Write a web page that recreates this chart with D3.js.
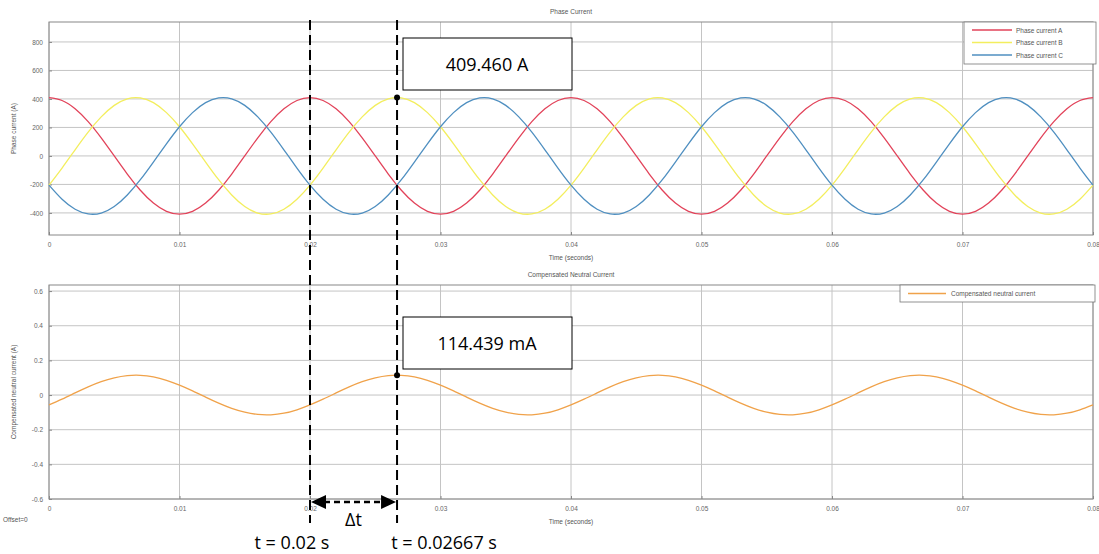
<!DOCTYPE html>
<html>
<head>
<meta charset="utf-8">
<script src="https://cdn.jsdelivr.net/npm/d3@7"></script>
<style>
  body { margin: 0; background: white; }
  svg { display: block; font-family: "Liberation Sans", Arial, sans-serif; }
</style>
</head>
<body>
<script>
// samples every 1 ms, 0 .. 0.08 s
const dt = 0.001
const phaseA = [409,389,331,241,127,0,-127,-241,-331,-389,-409,-389,-331,-241,-127,0,127,241,331,389,
    409,389,331,241,127,0,-127,-241,-331,-389,-409,-389,-331,-241,-127,0,127,241,331,389,
    409,389,331,241,127,0,-127,-241,-331,-389,-409,-389,-331,-241,-127,0,127,241,331,389,
    409,389,331,241,127,0,-127,-241,-331,-389,-409,-389,-331,-241,-127,0,127,241,331,389,409]
const phaseB = [-205,-85,43,167,274,355,401,407,374,304,205,85,-43,-167,-274,-355,-401,-407,-374,-304,
    -205,-85,43,167,274,355,401,407,374,304,205,85,-43,-167,-274,-355,-401,-407,-374,-304,
    -205,-85,43,167,274,355,401,407,374,304,205,85,-43,-167,-274,-355,-401,-407,-374,-304,
    -205,-85,43,167,274,355,401,407,374,304,205,85,-43,-167,-274,-355,-401,-407,-374,-304,-205]
const phaseC = [-205,-304,-374,-407,-401,-355,-274,-167,-43,85,205,304,374,407,401,355,274,167,43,-85,
    -205,-304,-374,-407,-401,-355,-274,-167,-43,85,205,304,374,407,401,355,274,167,43,-85,
    -205,-304,-374,-407,-401,-355,-274,-167,-43,85,205,304,374,407,401,355,274,167,43,-85,
    -205,-304,-374,-407,-401,-355,-274,-167,-43,85,205,304,374,407,401,355,274,167,43,-85,-205]
const neutral = [-0.057,-0.024,0.012,0.047,0.077,0.099,0.112,0.114,0.105,0.085,0.057,0.024,-0.012,-0.047,-0.077,-0.099,-0.112,-0.114,-0.105,-0.085,
    -0.057,-0.024,0.012,0.047,0.077,0.099,0.112,0.114,0.105,0.085,0.057,0.024,-0.012,-0.047,-0.077,-0.099,-0.112,-0.114,-0.105,-0.085,
    -0.057,-0.024,0.012,0.047,0.077,0.099,0.112,0.114,0.105,0.085,0.057,0.024,-0.012,-0.047,-0.077,-0.099,-0.112,-0.114,-0.105,-0.085,
    -0.057,-0.024,0.012,0.047,0.077,0.099,0.112,0.114,0.105,0.085,0.057,0.024,-0.012,-0.047,-0.077,-0.099,-0.112,-0.114,-0.105,-0.085,-0.057]

const xTicks = [0, 0.01, 0.02, 0.03, 0.04, 0.05, 0.06, 0.07, 0.08]
const topTicks = [-400, -200, 0, 200, 400, 600, 800]
const botTicks = [-0.6, -0.4, -0.2, 0, 0.2, 0.4, 0.6]
const phaseNames = ['Phase current A', 'Phase current B', 'Phase current C']
const phaseColors = ['#e2435a', '#f3ee5e', '#4f8fc0']
const cursorT = [0.02, 0.02667]
const cursorA = 409.460
const cursorN = 0.114439

const W = 1099, H = 554
const svg = d3.select('body').append('svg')
    .attr('width', W)
    .attr('height', H)

let x = d3.scaleLinear().domain([0, 0.08]).range([49, 1093])
let yTop = d3.scaleLinear().domain([-555, 940]).range([235, 22])
let yBot = d3.scaleLinear().domain([-0.6, 0.635]).range([499, 285])

function panel(y, ticks, fmt, title, ylabel, top, bottom){
    const g = svg.append('g')
    // grid
    g.selectAll('.gx').data(xTicks).enter().append('line')
        .attr('x1', d => x(d)).attr('x2', d => x(d))
        .attr('y1', top).attr('y2', bottom)
        .attr('stroke', '#c4c4c4').attr('stroke-width', 1)
    g.selectAll('.gy').data(ticks).enter().append('line')
        .attr('x1', 49).attr('x2', 1093)
        .attr('y1', d => y(d)).attr('y2', d => y(d))
        .attr('stroke', '#c4c4c4').attr('stroke-width', 1)
    g.append('rect')
        .attr('x', 49).attr('y', top)
        .attr('width', 1093 - 49).attr('height', bottom - top)
        .attr('fill', 'none').attr('stroke', '#888').attr('stroke-width', 1)

    let xAxis = d3.axisBottom(x).tickValues(xTicks).tickSize(3).tickFormat(d => d === 0 ? '0' : d3.format('.2f')(d))
    let ax = g.append('g').attr('transform', `translate(0,${bottom})`).call(xAxis)
    ax.select('.domain').remove()
    ax.selectAll('line').attr('stroke', '#888').attr('transform', 'translate(0,-3)')
    ax.selectAll('text').attr('fill', '#666').attr('font-size', '6.5px').attr('dy', '0.9em')

    let yAxis = d3.axisLeft(y).tickValues(ticks).tickSize(3).tickFormat(fmt)
    let ay = g.append('g').attr('transform', 'translate(49,0)').call(yAxis)
    ay.select('.domain').remove()
    ay.selectAll('line').attr('stroke', '#888').attr('transform', 'translate(3,0)')
    ay.selectAll('text').attr('fill', '#666').attr('font-size', '6.5px').attr('x', -6)

    g.append('text')
        .attr('x', 571).attr('y', top - 8)
        .attr('text-anchor', 'middle').attr('font-size', '6.5px').attr('fill', '#555')
        .text(title)
    g.append('text')
        .attr('x', 571).attr('y', bottom + 25)
        .attr('text-anchor', 'middle').attr('font-size', '6.5px').attr('fill', '#555')
        .text('Time (seconds)')
    g.append('text')
        .attr('transform', `translate(16,${(top + bottom) / 2}) rotate(-90)`)
        .attr('text-anchor', 'middle').attr('font-size', '6.5px').attr('fill', '#555')
        .text(ylabel)
}

panel(yTop, topTicks, d => d, 'Phase Current', 'Phase current (A)', 22, 235)
panel(yBot, botTicks, d => d === 0 ? '0' : d.toFixed(1), 'Compensated Neutral Current', 'Compensated neutral current (A)', 285, 499)

const lineTop = d3.line().x((d, i) => x(i * dt)).y(d => yTop(d)).curve(d3.curveNatural)
const lineBot = d3.line().x((d, i) => x(i * dt)).y(d => yBot(d)).curve(d3.curveNatural)

svg.selectAll('.phase')
    .data([phaseA, phaseB, phaseC])
    .enter()
    .append('path')
    .attr('d', d => lineTop(d))
    .attr('fill', 'none')
    .attr('stroke', (d, i) => phaseColors[i])
    .attr('stroke-width', 1.3)

svg.append('path')
    .attr('d', lineBot(neutral))
    .attr('fill', 'none')
    .attr('stroke', '#f0a24a')
    .attr('stroke-width', 1.3)

// legends
svg.append('rect')
    .attr('x', 964).attr('y', 22).attr('width', 132).attr('height', 42)
    .attr('fill', 'white').attr('stroke', '#777').attr('stroke-width', 0.8)
phaseNames.forEach((n, i) => {
    svg.append('line')
        .attr('x1', 972).attr('x2', 1012)
        .attr('y1', 30 + i * 12.5).attr('y2', 30 + i * 12.5)
        .attr('stroke', phaseColors[i]).attr('stroke-width', 1.5)
    svg.append('text')
        .attr('x', 1016).attr('y', 32.5 + i * 12.5)
        .attr('font-size', '6.5px').attr('fill', '#555')
        .text(n)
})
svg.append('rect')
    .attr('x', 900).attr('y', 285).attr('width', 195).attr('height', 17)
    .attr('fill', 'white').attr('stroke', '#777').attr('stroke-width', 0.8)
svg.append('line')
    .attr('x1', 908).attr('x2', 946).attr('y1', 293.5).attr('y2', 293.5)
    .attr('stroke', '#f0a24a').attr('stroke-width', 1.5)
svg.append('text')
    .attr('x', 951).attr('y', 296)
    .attr('font-size', '6.5px').attr('fill', '#555')
    .text('Compensated neutral current')

svg.append('text')
    .attr('x', 3).attr('y', 522)
    .attr('font-size', '6.5px').attr('fill', '#555')
    .text('Offset=0')

// cursors
svg.selectAll('.cursor')
    .data(cursorT)
    .enter()
    .append('line')
    .attr('x1', d => x(d)).attr('x2', d => x(d))
    .attr('y1', 20).attr('y2', 523)
    .attr('stroke', 'black').attr('stroke-width', 2)
    .attr('stroke-dasharray', '10,5')

svg.append('circle')
    .attr('cx', x(cursorT[1])).attr('cy', yTop(cursorA))
    .attr('r', 3).attr('fill', 'black')
svg.append('circle')
    .attr('cx', x(cursorT[1])).attr('cy', yBot(cursorN))
    .attr('r', 3).attr('fill', 'black')

svg.append('rect')
    .attr('x', 403).attr('y', 38).attr('width', 169).attr('height', 52)
    .attr('fill', 'white').attr('stroke', 'black').attr('stroke-width', 1)
svg.append('text')
    .attr('x', 487).attr('y', 71)
    .attr('text-anchor', 'middle').attr('font-family', 'Open Sans, sans-serif')
    .attr('font-size', '18px').attr('fill', 'black')
    .text(cursorA.toFixed(3) + ' A')
svg.append('rect')
    .attr('x', 403).attr('y', 317).attr('width', 169).attr('height', 52)
    .attr('fill', 'white').attr('stroke', 'black').attr('stroke-width', 1)
svg.append('text')
    .attr('x', 487).attr('y', 350)
    .attr('text-anchor', 'middle').attr('font-family', 'Open Sans, sans-serif')
    .attr('font-size', '18px').attr('fill', 'black')
    .text((cursorN * 1000).toFixed(3) + ' mA')

// delta t arrow
const ay0 = 502
svg.append('line')
    .attr('x1', x(cursorT[0]) + 14).attr('x2', x(cursorT[1]) - 14)
    .attr('y1', ay0).attr('y2', ay0)
    .attr('stroke', 'black').attr('stroke-width', 2.5)
    .attr('stroke-dasharray', '6,4')
svg.append('path')
    .attr('d', `M${x(cursorT[0]) + 1},${ay0} l15,-7 l0,14 z`)
    .attr('fill', 'black')
svg.append('path')
    .attr('d', `M${x(cursorT[1]) - 1},${ay0} l-15,-7 l0,14 z`)
    .attr('fill', 'black')
svg.append('text')
    .attr('x', (x(cursorT[0]) + x(cursorT[1])) / 2).attr('y', 526)
    .attr('text-anchor', 'middle').attr('font-family', 'Open Sans, sans-serif')
    .attr('font-size', '18px').attr('fill', 'black')
    .text('Δt')
svg.append('text')
    .attr('x', x(cursorT[0]) - 18).attr('y', 549)
    .attr('text-anchor', 'middle').attr('font-family', 'Open Sans, sans-serif')
    .attr('font-size', '18px').attr('fill', 'black')
    .text('t = 0.02 s')
svg.append('text')
    .attr('x', x(cursorT[1]) + 47).attr('y', 549)
    .attr('text-anchor', 'middle').attr('font-family', 'Open Sans, sans-serif')
    .attr('font-size', '18px').attr('fill', 'black')
    .text('t = 0.02667 s')
</script>
</body>
</html>
